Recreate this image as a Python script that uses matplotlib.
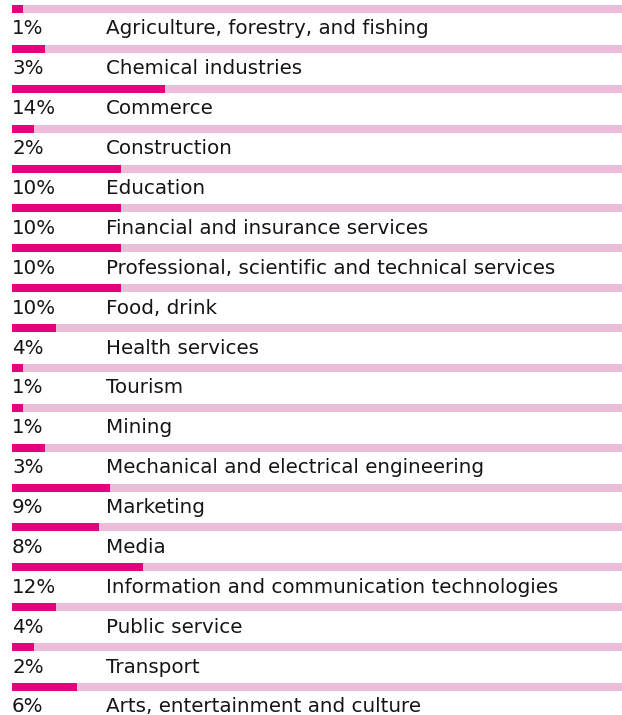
import matplotlib
matplotlib.use("Agg")
import matplotlib.pyplot as plt

categories = [
    "Agriculture, forestry, and fishing",
    "Chemical industries",
    "Commerce",
    "Construction",
    "Education",
    "Financial and insurance services",
    "Professional, scientific and technical services",
    "Food, drink",
    "Health services",
    "Tourism",
    "Mining",
    "Mechanical and electrical engineering",
    "Marketing",
    "Media",
    "Information and communication technologies",
    "Public service",
    "Transport",
    "Arts, entertainment and culture",
]
values = [1, 3, 14, 2, 10, 10, 10, 10, 4, 1, 1, 3, 9, 8, 12, 4, 2, 6]
track_max = 56

W, H = 622, 715
fig = plt.figure(figsize=(W / 100, H / 100), dpi=100)
left_px = 12
ax = fig.add_axes([left_px / W, 0, (W - left_px) / W, 1])

row_step = 39.88      # px between rows
first_center = 9.0    # px from top to first bar centre
bar_h = 8.0 / row_step

ax.set_xlim(0, track_max)
ax.set_ylim((H - first_center) / row_step, -first_center / row_step)
ax.axis("off")

pink_bg = "#ecbdd9"
magenta = "#e5007e"
n = len(categories)
rows = list(range(n))
ax.barh(rows, [track_max] * n, height=bar_h, left=0, color=pink_bg, linewidth=0)
ax.barh(rows, values, height=bar_h, left=0, color=magenta, linewidth=0)

font = "DejaVu Sans"
fs = 14.3
text_off = 25.5 / row_step
cat_x = (106 - left_px) / (W - left_px) * track_max
for i, (c, v) in enumerate(zip(categories, values)):
    ax.text(0, i + text_off, f"{v}%", ha="left", va="baseline",
            fontsize=fs, family=font, color="#151515")
    ax.text(cat_x, i + text_off, c, ha="left", va="baseline",
            fontsize=fs, family=font, color="#151515")

fig.savefig("out.png", dpi=100)
